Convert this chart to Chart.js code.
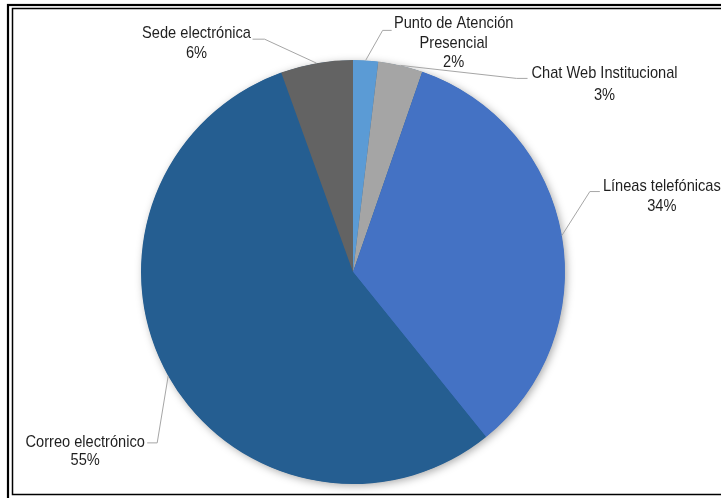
<!DOCTYPE html>
<html>
<head>
<meta charset="utf-8">
<script src="https://cdn.jsdelivr.net/npm/chart.js@4"></script>
<style>
  html, body { margin: 0; padding: 0; background: #ffffff; }
  #wrap { position: relative; width: 721px; height: 498px; }
</style>
</head>
<body>
<div id="wrap"><canvas id="c" width="721" height="498"></canvas></div>
<script>
// ---- data ----
const categories = ['Punto de Atención Presencial', 'Chat Web Institucional', 'Líneas telefónicas', 'Correo electrónico', 'Sede electrónica'];
const labelLines = [['Punto de Atención', 'Presencial'], ['Chat Web Institucional'], ['Líneas telefónicas'], ['Correo electrónico'], ['Sede electrónica']];
const values = [1.9, 3.4, 33.9, 55.3, 5.5];
const percentLabels = ['2%', '3%', '34%', '55%', '6%'];

// ---- styles ----
const colors = ['#5B9BD5', '#A5A5A5', '#4472C4', '#255E91', '#636363'];
const FONT = '17px "Liberation Sans", Arial, sans-serif';
const NARROW = 0.86; // horizontal squeeze to imitate a narrow typeface
// leader/label layout offsets relative to the slice's outer mid point
const labelLayout = [
  { elbow: [17, -30],  end: [26, -30],  text: [88, -37],   gap: 19.5 },
  { elbow: [116, 13],  end: [127, 13],  text: [204, 8],    gap: 22 },
  { elbow: [28, -44],  end: [38, -44],  text: [100, -49],  gap: 20 },
  { elbow: [-11, 67],  end: [-21, 67],  text: [-83, 66],   gap: 18 },
  { elbow: [-52, -24], end: [-64, -24], text: [-120, -30], gap: 20 }
];

const framePlugin = {
  id: 'frame',
  beforeDraw(chart) {
    const ctx = chart.ctx;
    ctx.save();
    ctx.fillStyle = '#ffffff';
    ctx.fillRect(0, 0, chart.width, chart.height);
    ctx.strokeStyle = '#000000';
    ctx.lineWidth = 2.2;
    ctx.strokeRect(8, 5, 760, 500);
    ctx.lineWidth = 1.5;
    ctx.strokeRect(12.5, 8.5, 760, 486);
    ctx.restore();
  }
};

const shadowPlugin = {
  id: 'pieShadow',
  beforeDatasetsDraw(chart) {
    const ctx = chart.ctx;
    const arc = chart.getDatasetMeta(0).data[0];
    if (!arc) return;
    const p = arc.getProps(['x', 'y', 'outerRadius'], true);
    ctx.save();
    ctx.shadowColor = 'rgba(0,0,0,0.35)';
    ctx.shadowBlur = 8;
    ctx.shadowOffsetX = 2;
    ctx.shadowOffsetY = 2;
    ctx.fillStyle = '#255E91';
    ctx.beginPath();
    ctx.arc(p.x, p.y, p.outerRadius - 0.5, 0, Math.PI * 2);
    ctx.fill();
    ctx.restore();
  }
};

const labelPlugin = {
  id: 'pieLabels',
  afterDatasetsDraw(chart) {
    const ctx = chart.ctx;
    const meta = chart.getDatasetMeta(0);
    ctx.save();
    ctx.font = FONT;
    ctx.textAlign = 'center';
    ctx.textBaseline = 'middle';
    meta.data.forEach((arc, i) => {
      const p = arc.getProps(['x', 'y', 'startAngle', 'endAngle', 'outerRadius'], true);
      const mid = (p.startAngle + p.endAngle) / 2;
      const ex = p.x + Math.cos(mid) * p.outerRadius;
      const ey = p.y + Math.sin(mid) * p.outerRadius;
      const L = labelLayout[i];
      ctx.strokeStyle = '#A6A6A6';
      ctx.lineWidth = 1;
      ctx.beginPath();
      ctx.moveTo(ex, ey);
      ctx.lineTo(ex + L.elbow[0], ey + L.elbow[1]);
      ctx.lineTo(ex + L.end[0], ey + L.end[1]);
      ctx.stroke();
      ctx.fillStyle = '#1f1f1f';
      const lines = labelLines[i].concat([percentLabels[i]]);
      lines.forEach((t, k) => {
        const tx = ex + L.text[0];
        const ty = ey + L.text[1] + k * L.gap;
        ctx.save();
        ctx.translate(tx, ty);
        ctx.scale(NARROW, 1);
        ctx.fillText(t, 0, 0);
        ctx.restore();
      });
    });
    ctx.restore();
  }
};

new Chart(document.getElementById('c'), {
  type: 'pie',
  data: {
    labels: categories,
    datasets: [{
      data: values,
      backgroundColor: colors,
      borderWidth: 0,
      hoverOffset: 0
    }]
  },
  options: {
    responsive: false,
    animation: false,
    layout: { padding: { top: 60, bottom: 14, left: 141, right: 156 } },
    plugins: {
      legend: { display: false },
      tooltip: { enabled: false },
      title: { display: false }
    },
    events: []
  },
  plugins: [framePlugin, shadowPlugin, labelPlugin]
});
</script>
</body>
</html>
